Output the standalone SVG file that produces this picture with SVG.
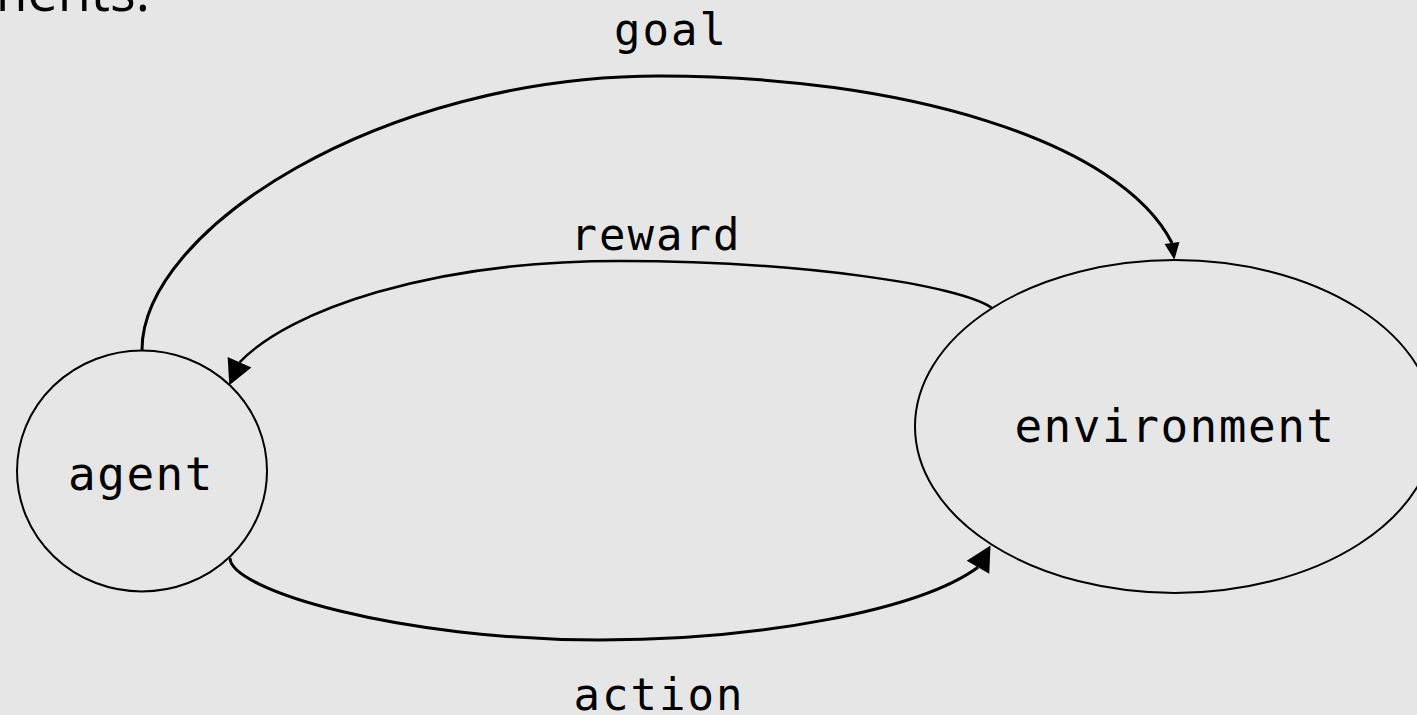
<svg xmlns="http://www.w3.org/2000/svg" width="1417" height="715" viewBox="0 0 1417 715">
<style>
.node{fill:none;stroke:#000;stroke-width:2}
.edge{fill:none;stroke:#000;stroke-width:3}
.lbl{font-family:"DejaVu Sans Mono","Liberation Mono",monospace;fill:#000;text-anchor:middle}
.nl{font-size:46px;letter-spacing:1.5px}
.el{font-size:44px;letter-spacing:2px}
.head{fill:#000;stroke:none}
</style>
<defs>
<marker id="arrSmall" markerUnits="userSpaceOnUse" markerWidth="20" markerHeight="20" refX="0" refY="8" orient="82" overflow="visible"><path class="head" d="M0,0.5 L17,8 L0,15.5 z"/></marker>
<marker id="arrReward" markerUnits="userSpaceOnUse" markerWidth="26" markerHeight="26" refX="0" refY="13" orient="114" overflow="visible"><path class="head" d="M0,0 L25,13 L0,26 z"/></marker>
<marker id="arrAction" markerUnits="userSpaceOnUse" markerWidth="26" markerHeight="26" refX="0" refY="13" orient="-60" overflow="visible"><path class="head" d="M0,0 L25,13 L0,26 z"/></marker>
</defs>
<rect x="0" y="0" width="1417" height="715" fill="#e6e6e6"/>
<text x="150" y="11" font-family="'Open Sans','Noto Sans',sans-serif" font-size="54" text-anchor="end" fill="#000">ments.</text>
<g id="connectors">
<path id="e-goal" class="edge" d="M142,350 C142,230 380,76 660,76 C900,76 1120,140 1172,243" marker-end="url(#arrSmall)"/>
<path id="e-reward" class="edge" style="stroke-width:2.5" d="M992,308 C960,285 800,261 620,261 C430,261 290,310 239.5,362.3" marker-end="url(#arrReward)"/>
<path id="e-action" class="edge" d="M230,558 C230,590 400,640 600,640 C760,640 920,610 978,567.2" marker-end="url(#arrAction)"/>
<text class="lbl el" x="671" y="45">goal</text>
<text class="lbl el" x="656" y="250">reward</text>
<text class="lbl el" x="659" y="710">action</text>
</g>
<g id="agent">
<ellipse class="node" cx="142" cy="471" rx="125" ry="120.5"/>
<text class="lbl nl" x="141" y="490">agent</text>
</g>
<g id="environment">
<ellipse class="node" cx="1175" cy="426.5" rx="260" ry="166.5"/>
<text class="lbl nl" x="1175" y="442">environment</text>
</g>
</svg>
